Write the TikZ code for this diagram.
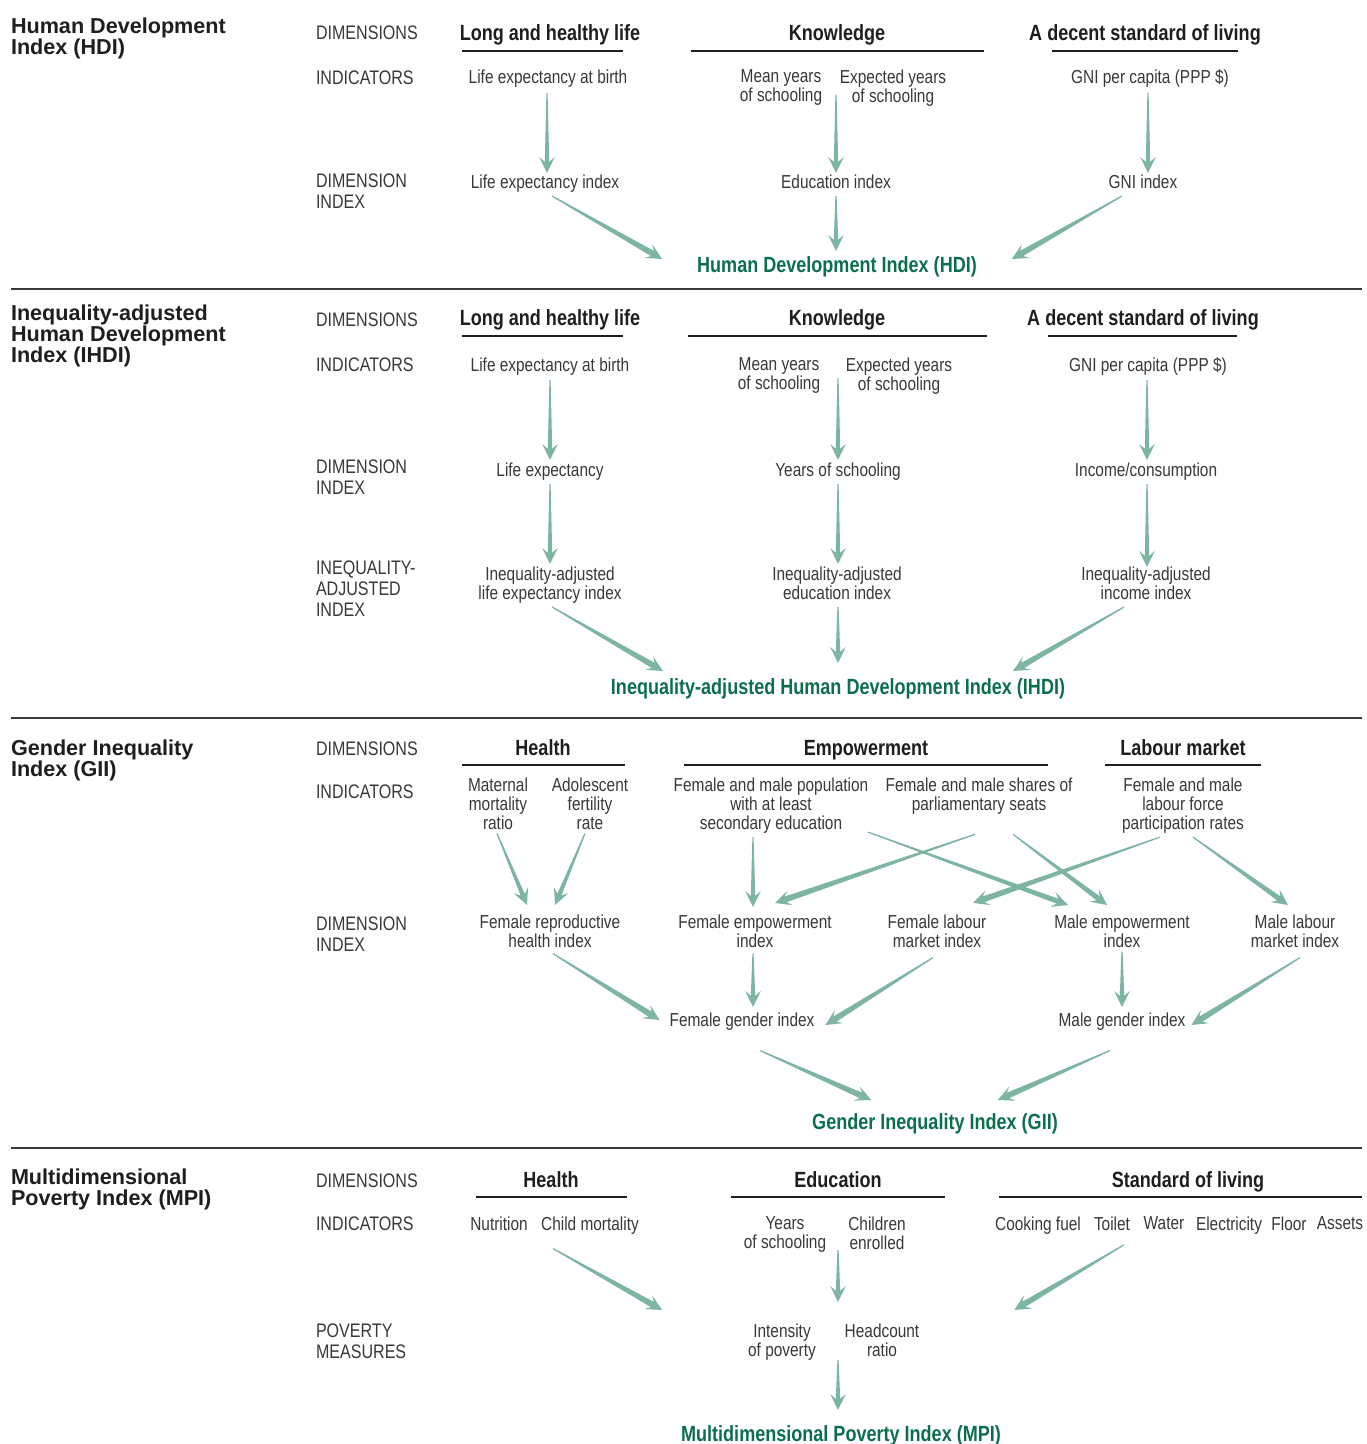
\documentclass[tikz,border=0pt]{standalone}
\usepackage{fontspec}
\setmainfont{Liberation Sans}[FakeStretch=0.82]
\newfontfamily\titlefont{Liberation Sans}
\usetikzlibrary{calc}
\definecolor{arrowc}{HTML}{7DB4A4}
\definecolor{greenc}{HTML}{0B6E4F}
\definecolor{txtc}{HTML}{383838}
\definecolor{headc}{HTML}{1E1E1E}
\definecolor{sepc}{HTML}{3A3A3A}
\newcommand\tarrow[3][1.1pt]{%
  \fill[arrowc] let \p1=#2, \p2=#3, \n1={atan2(\y2-\y1,\x2-\x1)} in
  ($(\p1)+(\n1+90:0.3pt)$) --
  ($(\p2)+(\n1+180:5.6pt)+(\n1+90:#1)$) --
  ($(\p2)+(\n1+180:8pt)+(\n1+90:3.9pt)$) --
  (\p2) --
  ($(\p2)+(\n1+180:8pt)+(\n1-90:3.9pt)$) --
  ($(\p2)+(\n1+180:5.6pt)+(\n1-90:#1)$) --
  ($(\p1)+(\n1-90:0.3pt)$) -- cycle;}
\tikzset{
  every node/.style={inner sep=0pt, outer sep=0pt},
  lab/.style={anchor=north west, align=left, font=\fontsize{9.8}{10.5}\selectfont, text=txtc},
  txt/.style={anchor=north, align=center, font=\fontsize{9.4}{9.4}\selectfont, text=txtc},
  head/.style={anchor=north, font=\fontsize{11}{12}\selectfont\bfseries, text=headc},
  ttl/.style={anchor=north west, align=left, font=\titlefont\fontsize{10.8}{10.5}\selectfont\bfseries, text=headc},
  grn/.style={anchor=north, font=\fontsize{11}{12}\selectfont\bfseries, text=greenc},
  uline/.style={line width=0.8pt, draw=headc},
  sepline/.style={line width=1.3pt, draw=sepc},
}
\begin{document}
\begin{tikzpicture}[x=0.5pt,y=-0.5pt]
\useasboundingbox (0,0) rectangle (1366,1444);
% ================= HDI =================
\node[ttl] (hdiT) at (11,18) {Human Development\\Index (HDI)};
\node[lab] (hdiL1) at (316,26) {DIMENSIONS};
\node[lab] (hdiL2) at (316,71) {INDICATORS};
\node[lab] (hdiL3) at (316,174) {DIMENSION\\INDEX};
\node[head] (hdiD1) at (550,25) {Long and healthy life};
\node[head] (hdiD2) at (837,25) {Knowledge};
\node[head] (hdiD3) at (1145,25) {A decent standard of living};
\draw[uline] (462,51) -- (623,51);
\draw[uline] (691,51) -- (984,51);
\draw[uline] (1052,51) -- (1238,51);
\node[txt] (hdiI1) at (548,70) {Life expectancy at birth};
\node[txt] (hdiI2) at (781,70) {Mean years\\of schooling};
\node[txt] (hdiI3) at (893,70) {Expected years\\of schooling};
\node[txt] (hdiI4) at (1150,70) {GNI per capita (PPP \$)};
\node[txt] (hdiX1) at (545,175) {Life expectancy index};
\node[txt] (hdiX2) at (836,175) {Education index};
\node[txt] (hdiX3) at (1143,175) {GNI index};
\node[grn] (hdi) at (837,257) {Human Development Index (HDI)};
\tarrow{($(hdiX1.north)+(2,-82)$)}{($(hdiX1.north)+(2,-2)$)}
\tarrow{($(hdiX2.north)+(0,-80)$)}{($(hdiX2.north)+(0,-2)$)}
\tarrow{($(hdiX3.north)+(5,-82)$)}{($(hdiX3.north)+(5,-2)$)}
\tarrow[1.5pt]{($(hdiX1.north)+(7,21)$)}{($(hdi.north west)+(-35,2)$)}
\tarrow{($(hdiX2.north)+(0,21)$)}{($(hdi.north)+(-1,-6)$)}
\tarrow[1.5pt]{($(hdiX3.north)+(-21,21)$)}{($(hdi.north east)+(35,2)$)}
\draw[sepline] (11,289) -- (1362,289);
% ================= IHDI =================
\node[ttl] (ihdiT) at (11,305) {Inequality-adjusted\\Human Development\\Index (IHDI)};
\node[lab] (ihdiL1) at (316,313) {DIMENSIONS};
\node[lab] (ihdiL2) at (316,358) {INDICATORS};
\node[lab] (ihdiL3) at (316,460) {DIMENSION\\INDEX};
\node[lab] (ihdiL4) at (316,561) {INEQUALITY-\\ADJUSTED\\INDEX};
\node[head] (ihdiD1) at (550,310) {Long and healthy life};
\node[head] (ihdiD2) at (837,310) {Knowledge};
\node[head] (ihdiD3) at (1143,310) {A decent standard of living};
\draw[uline] (462,336) -- (623,336);
\draw[uline] (688,336) -- (987,336);
\draw[uline] (1048,336) -- (1237,336);
\node[txt] (ihdiI1) at (550,358) {Life expectancy at birth};
\node[txt] (ihdiI2) at (779,358) {Mean years\\of schooling};
\node[txt] (ihdiI3) at (899,358) {Expected years\\of schooling};
\node[txt] (ihdiI4) at (1148,358) {GNI per capita (PPP \$)};
\node[txt] (ihdiX1) at (550,463) {Life expectancy};
\node[txt] (ihdiX2) at (838,463) {Years of schooling};
\node[txt] (ihdiX3) at (1146,463) {Income/consumption};
\node[txt] (ihdiQ1) at (550,567) {Inequality-adjusted\\life expectancy index};
\node[txt] (ihdiQ2) at (837,567) {Inequality-adjusted\\education index};
\node[txt] (ihdiQ3) at (1146,567) {Inequality-adjusted\\income index};
\node[grn] (ihdi) at (838,679) {Inequality-adjusted Human Development Index (IHDI)};
\tarrow{($(ihdiX1.north)+(0,-83)$)}{($(ihdiX1.north)+(0,-3)$)}
\tarrow{($(ihdiX2.north)+(0,-85)$)}{($(ihdiX2.north)+(0,-3)$)}
\tarrow{($(ihdiX3.north)+(1,-83)$)}{($(ihdiX3.north)+(1,-3)$)}
\tarrow{($(ihdiQ1.north)+(0,-83)$)}{($(ihdiQ1.north)+(0,-3)$)}
\tarrow{($(ihdiQ2.north)+(1,-83)$)}{($(ihdiQ2.north)+(1,-3)$)}
\tarrow{($(ihdiQ3.north)+(1,-83)$)}{($(ihdiQ3.north)+(1,0)$)}
\tarrow[1.5pt]{($(ihdiQ1.north)+(2,40)$)}{($(ihdi.north west)+(52,-8)$)}
\tarrow{($(ihdiQ2.north)+(1,40)$)}{($(ihdi.north)+(0,-16)$)}
\tarrow[1.5pt]{($(ihdiQ3.north)+(-22,40)$)}{($(ihdi.north east)+(-52,-8)$)}
\draw[sepline] (11,718) -- (1362,718);
% ================= GII =================
\node[ttl] (giiT) at (11,740) {Gender Inequality\\Index (GII)};
\node[lab] (giiL1) at (316,742) {DIMENSIONS};
\node[lab] (giiL2) at (316,785) {INDICATORS};
\node[lab] (giiL3) at (316,917) {DIMENSION\\INDEX};
\node[head] (giiD1) at (543,740) {Health};
\node[head] (giiD2) at (866,740) {Empowerment};
\node[head] (giiD3) at (1183,740) {Labour market};
\draw[uline] (462,765) -- (625,765);
\draw[uline] (684,765) -- (1048,765);
\draw[uline] (1105,765) -- (1261,765);
\node[txt] (giiI1) at (498,778) {Maternal\\mortality\\ratio};
\node[txt] (giiI2) at (590,778) {Adolescent\\fertility\\rate};
\node[txt] (giiI3) at (771,778) {Female and male population\\with at least\\secondary education};
\node[txt] (giiI4) at (979,778) {Female and male shares of\\parliamentary seats};
\node[txt] (giiI5) at (1183,778) {Female and male\\labour force\\participation rates};
\node[txt] (giiX1) at (550,915) {Female reproductive\\health index};
\node[txt] (giiX2) at (755,915) {Female empowerment\\index};
\node[txt] (giiX3) at (937,915) {Female labour\\market index};
\node[txt] (giiX4) at (1122,915) {Male empowerment\\index};
\node[txt] (giiX5) at (1295,915) {Male labour\\market index};
\node[txt] (giiG1) at (742,1013) {Female gender index};
\node[txt] (giiG2) at (1122,1013) {Male gender index};
\node[grn] (gii) at (935,1114) {Gender Inequality Index (GII)};
\tarrow{($(giiI1.south)+(-1,4)$)}{($(giiX1.north)+(-23,-10)$)}
\tarrow{($(giiI2.south)+(-5,4)$)}{($(giiX1.north)+(5,-10)$)}
\tarrow{($(giiI3.south)+(-18,4)$)}{($(giiX2.north)+(-2,-8)$)}
\tarrow[1.3pt]{($(giiI3.south)+(97,-1)$)}{($(giiX4.north)+(-54,-10)$)}
\tarrow[1.5pt]{($(giiI4.south)+(-4,20)$)}{($(giiX2.north)+(20,-12)$)}
\tarrow[1.3pt]{($(giiI4.south)+(34,20)$)}{($(giiX4.north)+(-15,-10)$)}
\tarrow[1.5pt]{($(giiI5.south)+(-23,4)$)}{($(giiX3.north)+(36,-12)$)}
\tarrow[1.3pt]{($(giiI5.south)+(10,4)$)}{($(giiX5.north)+(-7,-10)$)}
\tarrow[1.5pt]{($(giiX1.south)+(3,6)$)}{($(giiG1.north west)+(-10,7)$)}
\tarrow{($(giiX2.south)+(-2,6)$)}{($(giiG1.north)+(11,-6)$)}
\tarrow[1.5pt]{($(giiX3.south)+(-4,10)$)}{($(giiG1.north east)+(11,12)$)}
\tarrow{($(giiX4.south)+(0,4)$)}{($(giiG2.north)+(0,-6)$)}
\tarrow[1.5pt]{($(giiX5.south)+(5,10)$)}{($(giiG2.north east)+(6,12)$)}
\tarrow[1.5pt]{($(giiG1.south)+(18,20)$)}{($(gii.north west)+(59,-14)$)}
\tarrow[1.5pt]{($(giiG2.south)+(-12,20)$)}{($(gii.north east)+(-60,-14)$)}
\draw[sepline] (11,1148) -- (1362,1148);
% ================= MPI =================
\node[ttl] (mpiT) at (11,1169) {Multidimensional\\Poverty Index (MPI)};
\node[lab] (mpiL1) at (316,1174) {DIMENSIONS};
\node[lab] (mpiL2) at (316,1217) {INDICATORS};
\node[lab] (mpiL3) at (316,1324) {POVERTY\\MEASURES};
\node[head] (mpiD1) at (551,1172) {Health};
\node[head] (mpiD2) at (838,1172) {Education};
\node[head] (mpiD3) at (1188,1172) {Standard of living};
\draw[uline] (476,1197) -- (627,1197);
\draw[uline] (731,1197) -- (945,1197);
\draw[uline] (999,1197) -- (1362,1197);
\node[txt] (mpiI1) at (499,1217) {Nutrition};
\node[txt] (mpiI2) at (590,1217) {Child mortality};
\node[txt] (mpiI3) at (785,1217) {Years\\of schooling};
\node[txt] (mpiI4) at (877,1217) {Children\\enrolled};
\node[txt] (mpiI5) at (1038,1217) {Cooking fuel};
\node[txt] (mpiI6) at (1112,1217) {Toilet};
\node[txt] (mpiI7) at (1164,1217) {Water};
\node[txt] (mpiI8) at (1229,1217) {Electricity};
\node[txt] (mpiI9) at (1289,1217) {Floor};
\node[txt] (mpiI10) at (1340,1217) {Assets};
\node[txt] (mpiM1) at (782,1324) {Intensity\\of poverty};
\node[txt] (mpiM2) at (882,1324) {Headcount\\ratio};
\node[grn] (mpi) at (841,1426) {Multidimensional Poverty Index (MPI)};
\tarrow[1.5pt]{($(mpiI2.south)+(-37,14)$)}{($(mpiM1.north west)+(-86,-14)$)}
\tarrow{($(mpi.north)+(-3,-176)$)}{($(mpi.north)+(-3,-124)$)}
\tarrow[1.5pt]{($(mpiI6.south)+(12,14)$)}{($(mpiM2.north east)+(95,-14)$)}
\tarrow{($(mpi.north)+(-3,-66)$)}{($(mpi.north)+(-3,-16)$)}
\end{tikzpicture}
\end{document}
